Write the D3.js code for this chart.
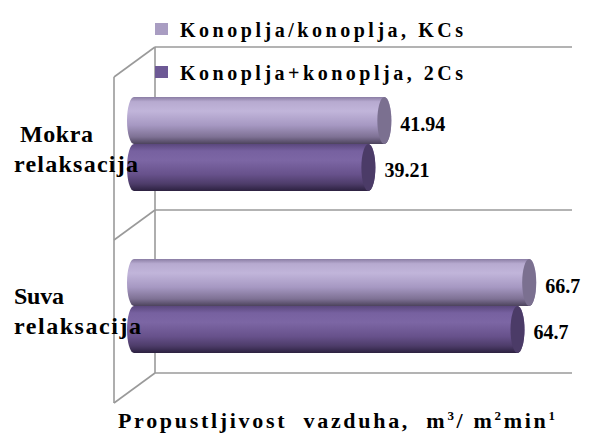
<!DOCTYPE html>
<html>
<head>
<meta charset="utf-8">
<script src="https://cdn.jsdelivr.net/npm/d3@7"></script>
</head>
<body style="margin:0; background:#fff">
<div id="chart"></div>
<script>
// data
var categories = ["Mokra relaksacija", "Suva relaksacija"];
var seriesNames = ["Konoplja/konoplja, KCs", "Konoplja+konoplja, 2Cs"];
var kcsValues = [41.94, 66.7];
var twoCsValues = [39.21, 64.7];
var categoryLines = [["Mokra", "relaksacija"], ["Suva", "relaksacija"]];

var width = 590, height = 435;
var FONT = "'Liberation Serif', 'Times New Roman', serif";

var svg = d3.select("#chart").append("svg")
    .attr("width", width)
    .attr("height", height)
    .style("display", "block");

var defs = svg.append("defs");

// every text gets its font inline
function styleText(sel, size) {
  return sel.style("font-family", FONT)
      .style("font-weight", "bold")
      .style("font-size", size + "px")
      .style("fill", "#000");
}

// stretch a text node's letter spacing until it is as wide as in the picture
function fitWidth(sel, target) {
  var node = sel.node();
  var n = node.textContent.length;
  var len = node.getComputedTextLength();
  if (n > 1) sel.style("letter-spacing", ((target - len) / (n - 1)) + "px");
}

////////////////////// colours //////////////////////
var barStops = [
  [[0, "#8a7da4"], [0.1, "#b7aad0"], [0.3, "#c1b5da"], [0.6, "#a698c2"], [0.85, "#7e7194"], [1, "#4c435c"]],
  [[0, "#5a477d"], [0.15, "#7761a0"], [0.35, "#7c66a4"], [0.65, "#67518b"], [0.85, "#4d3c69"], [1, "#2c2140"]]
];
var capColors = ["#7b7090", "#4b3b67"];
var legendColors = ["#a99dc2", "#6d5995"];

barStops.forEach(function(stops, i) {
  var g = defs.append("linearGradient")
      .attr("id", "barGrad" + i)
      .attr("x1", 0).attr("y1", 0).attr("x2", 0).attr("y2", 1);
  stops.forEach(function(s) {
    g.append("stop").attr("offset", s[0]).attr("stop-color", s[1]);
  });
});

////////////////////// scales //////////////////////
var xScale = d3.scaleLinear()
    .domain([0, 70])
    .range([139, 548.5]);

// bars sit in front of the back wall
var yScale = d3.scaleBand()
    .domain(categories)
    .range([63, 387])
    .paddingInner(0.42)
    .paddingOuter(0.21);

var ySub = d3.scaleBand()
    .domain(seriesNames)
    .range([0, yScale.bandwidth()]);

// back wall plane
var wallY = d3.scaleBand()
    .domain(categories)
    .range([47, 373]);

var wallLeft = 155, wallRight = 572, depthX = -41, depthY = 30;

////////////////////// walls //////////////////////
var walls = svg.append("g").attr("class", "walls")
    .attr("fill", "none")
    .attr("stroke", "#9a9a9a")
    .attr("stroke-width", 1.6);

var boundaries = categories.map(function(c) { return wallY(c); })
    .concat([wallY(categories[categories.length - 1]) + wallY.bandwidth()]);

walls.selectAll(".grid")
    .data(boundaries)
    .enter().append("line")
    .attr("class", "grid")
    .attr("x1", wallLeft).attr("x2", wallRight)
    .attr("y1", function(d) { return d; })
    .attr("y2", function(d) { return d; });

walls.selectAll(".diag")
    .data(boundaries)
    .enter().append("line")
    .attr("class", "diag")
    .attr("x1", wallLeft + depthX).attr("x2", wallLeft)
    .attr("y1", function(d) { return d + depthY; })
    .attr("y2", function(d) { return d; });

walls.append("line")
    .attr("x1", wallLeft).attr("x2", wallLeft)
    .attr("y1", boundaries[0]).attr("y2", boundaries[boundaries.length - 1]);

walls.append("line")
    .attr("x1", wallLeft + depthX).attr("x2", wallLeft + depthX)
    .attr("y1", boundaries[0] + depthY).attr("y2", boundaries[boundaries.length - 1] + depthY);

////////////////////// legend //////////////////////
var legend = svg.append("g").attr("class", "legend");
var legendY = [23, 66];

seriesNames.forEach(function(name, i) {
  legend.append("rect")
      .attr("x", 155).attr("y", legendY[i])
      .attr("width", 13).attr("height", 12)
      .attr("fill", legendColors[i]);
  var t = legend.append("text")
      .attr("x", 180).attr("y", legendY[i] + 14)
      .text(name);
  styleText(t, 20);
  fitWidth(t, 283);
});

////////////////////// bars //////////////////////
var rows = [];
categories.forEach(function(c, ci) {
  rows.push({ cat: c, series: 0, value: kcsValues[ci] });
  rows.push({ cat: c, series: 1, value: twoCsValues[ci] });
});

function cylinder(d) {
  var y0 = yScale(d.cat) + ySub(seriesNames[d.series]);
  var y1 = y0 + ySub.bandwidth();
  var r = (y1 - y0) / 2;
  var xs = xScale(0) - 5, xe = xScale(d.value);
  return "M" + xs + "," + y0 + "L" + xe + "," + y0 +
    "A7," + r + " 0 0 1 " + xe + "," + y1 +
    "L" + xs + "," + y1 +
    "A7," + r + " 0 0 1 " + xs + "," + y0 + "Z";
}

var bars = svg.append("g").attr("class", "bars")
    .selectAll(".bar")
    .data(rows)
    .enter().append("g")
    .attr("class", "bar");

bars.append("path")
    .attr("d", cylinder)
    .attr("fill", function(d) { return "url(#barGrad" + d.series + ")"; });

bars.append("ellipse")
    .attr("cx", function(d) { return xScale(d.value); })
    .attr("cy", function(d) { return yScale(d.cat) + ySub(seriesNames[d.series]) + ySub.bandwidth() / 2; })
    .attr("rx", 7)
    .attr("ry", ySub.bandwidth() / 2)
    .attr("fill", function(d) { return capColors[d.series]; });

var valueText = bars.append("text")
    .attr("x", function(d) { return xScale(d.value) + 16; })
    .attr("y", function(d) { return yScale(d.cat) + ySub(seriesNames[d.series]) + ySub.bandwidth() / 2 + 10; })
    .text(function(d) { return String(d.value); });
styleText(valueText, 20);

////////////////////// category labels //////////////////////
var catLabels = svg.append("g").attr("class", "cat-labels");
var catWidths = [[73, 124], [50, 127]];
categories.forEach(function(c, ci) {
  var mid = yScale(c) + yScale.bandwidth() / 2;
  categoryLines[ci].forEach(function(line, li) {
    var t = catLabels.append("text")
        .attr("x", ci === 0 && li === 0 ? 20 : 14)
        .attr("y", mid - 2 + li * 30)
        .text(line);
    styleText(t, 24);
    fitWidth(t, catWidths[ci][li]);
  });
});

////////////////////// axis title //////////////////////
var title = svg.append("text")
    .attr("x", 118).attr("y", 428)
    .attr("xml:space", "preserve");
styleText(title, 22);
title.append("tspan").text("Propustljivost  vazduha,  m");
title.append("tspan").style("font-size", "13px").attr("dy", -8).text("3");
title.append("tspan").attr("dy", 8).text("/ m");
title.append("tspan").style("font-size", "13px").attr("dy", -8).text("2");
title.append("tspan").attr("dy", 8).text("min");
title.append("tspan").style("font-size", "13px").attr("dy", -8).text("1");
fitWidth(title, 437);
</script>
</body>
</html>
